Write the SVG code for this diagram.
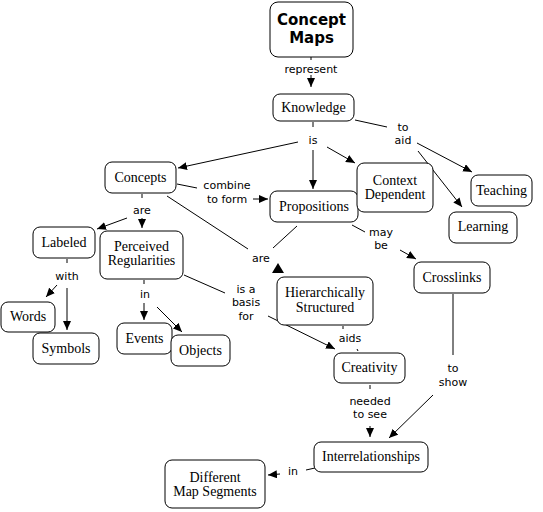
<svg xmlns="http://www.w3.org/2000/svg" width="543" height="512" viewBox="0 0 543 512">
<style>
.node rect { fill: #fff; stroke: #000; stroke-width: 1; }
.nt { font-family: "Liberation Serif", "Times New Roman", serif; font-size: 14px; text-anchor: middle; fill: #000; }
.title { font-family: "DejaVu Sans", "Liberation Sans", sans-serif; font-size: 15px; font-weight: bold; text-anchor: middle; fill: #000; }
.lt { font-family: "DejaVu Sans", "Liberation Sans", sans-serif; font-size: 11px; text-anchor: middle; fill: #000; }
.conn line { stroke: #000; stroke-width: 1; fill: none; }
.conn line.a { marker-end: url(#arrow); }
</style>
<defs>
<marker id="arrow" markerUnits="userSpaceOnUse" markerWidth="9" markerHeight="8" refX="9" refY="4" orient="auto">
<path d="M0,0 L9,4 L0,8 z" fill="#000"/>
</marker>
</defs>
<rect width="543" height="512" fill="#fff"/>
<g id="connectors" class="conn">
<line x1="311" y1="57" x2="311" y2="60"/>
<line class="a" x1="311" y1="75" x2="311" y2="87"/>
<line x1="313" y1="122" x2="313" y2="127"/>
<line class="a" x1="298" y1="142" x2="178" y2="168"/>
<line class="a" x1="313" y1="150" x2="313" y2="189"/>
<line class="a" x1="327" y1="147" x2="355" y2="163"/>
<line x1="355" y1="120" x2="387" y2="127"/>
<line class="a" x1="417" y1="143" x2="472" y2="172"/>
<line class="a" x1="418" y1="151" x2="462" y2="207"/>
<line x1="142" y1="194" x2="142" y2="198"/>
<line class="a" x1="127" y1="218" x2="97" y2="229"/>
<line class="a" x1="142" y1="218" x2="142" y2="228"/>
<line x1="177" y1="184" x2="197" y2="188"/>
<line class="a" x1="253" y1="199" x2="268" y2="199"/>
<line x1="167" y1="196" x2="248" y2="249"/>
<line x1="297" y1="226" x2="273" y2="248"/>
<polygon points="272,273 278,263 284,273" fill="#000"/>
<line x1="352" y1="225" x2="365" y2="232"/>
<line class="a" x1="400" y1="250" x2="416" y2="259"/>
<line x1="67" y1="259" x2="67" y2="263"/>
<line class="a" x1="57" y1="285" x2="46" y2="297"/>
<line class="a" x1="67" y1="288" x2="67" y2="330"/>
<line x1="144" y1="280" x2="144" y2="284"/>
<line class="a" x1="144" y1="303" x2="144" y2="320"/>
<line class="a" x1="157" y1="307" x2="182" y2="332"/>
<line x1="184" y1="275" x2="225" y2="293"/>
<line class="a" x1="268" y1="316" x2="335" y2="349"/>
<line x1="343" y1="326" x2="343" y2="329"/>
<line x1="357" y1="349" x2="358" y2="351"/>
<line x1="453" y1="294" x2="453" y2="355"/>
<line class="a" x1="433" y1="395" x2="389" y2="438"/>
<line x1="370" y1="385" x2="370" y2="389"/>
<line class="a" x1="370" y1="426" x2="370" y2="437"/>
<line x1="315" y1="468" x2="306" y2="470"/>
<line class="a" x1="280" y1="474" x2="268" y2="475"/>
</g>
<g id="labels">
<text class="lt" x="311" y="73">represent</text>
<text class="lt" x="313" y="144">is</text>
<text class="lt" x="403" y="131">to</text>
<text class="lt" x="403" y="144">aid</text>
<text class="lt" x="227" y="189">combine</text>
<text class="lt" x="227" y="203">to form</text>
<text class="lt" x="142" y="214">are</text>
<text class="lt" x="261" y="262">are</text>
<text class="lt" x="381" y="236">may</text>
<text class="lt" x="381" y="249">be</text>
<text class="lt" x="67" y="280">with</text>
<text class="lt" x="145" y="298">in</text>
<text class="lt" x="246" y="293">is a</text>
<text class="lt" x="246" y="306">basis</text>
<text class="lt" x="246" y="320">for</text>
<text class="lt" x="350" y="342">aids</text>
<text class="lt" x="453" y="372">to</text>
<text class="lt" x="453" y="386">show</text>
<text class="lt" x="370" y="405">needed</text>
<text class="lt" x="370" y="418">to see</text>
<text class="lt" x="293" y="475">in</text>
</g>
<g id="concept-maps" class="node"><rect x="270" y="2" width="83" height="55" rx="8"/><text class="title" x="311.5" y="25">Concept</text><text class="title" x="311.5" y="43">Maps</text></g>
<g id="knowledge" class="node"><rect x="273" y="94" width="81" height="27" rx="7"/><text class="nt" x="313.5" y="112">Knowledge</text></g>
<g id="concepts" class="node"><rect x="105" y="162" width="71" height="31" rx="7"/><text class="nt" x="140.5" y="182">Concepts</text></g>
<g id="propositions" class="node"><rect x="270" y="191" width="88" height="31" rx="7"/><text class="nt" x="314" y="211">Propositions</text></g>
<g id="context-dependent" class="node"><rect x="357" y="163" width="76" height="49" rx="7"/><text class="nt" x="395" y="185">Context</text><text class="nt" x="395" y="199">Dependent</text></g>
<g id="teaching" class="node"><rect x="471" y="175" width="61" height="31" rx="7"/><text class="nt" x="501.5" y="195">Teaching</text></g>
<g id="learning" class="node"><rect x="449" y="212" width="68" height="31" rx="7"/><text class="nt" x="483" y="231">Learning</text></g>
<g id="labeled" class="node"><rect x="33" y="227" width="62" height="31" rx="7"/><text class="nt" x="64" y="247">Labeled</text></g>
<g id="perceived-regularities" class="node"><rect x="100" y="231" width="83" height="48" rx="7"/><text class="nt" x="141.5" y="251">Perceived</text><text class="nt" x="141.5" y="265">Regularities</text></g>
<g id="words" class="node"><rect x="1" y="302" width="54" height="30" rx="7"/><text class="nt" x="28" y="321">Words</text></g>
<g id="symbols" class="node"><rect x="33" y="333" width="66" height="31" rx="7"/><text class="nt" x="66" y="353">Symbols</text></g>
<g id="events" class="node"><rect x="117" y="323" width="55" height="31" rx="7"/><text class="nt" x="144.5" y="343">Events</text></g>
<g id="objects" class="node"><rect x="171" y="335" width="59" height="31" rx="7"/><text class="nt" x="200.5" y="355">Objects</text></g>
<g id="hierarchically-structured" class="node"><rect x="277" y="277" width="96" height="48" rx="7"/><text class="nt" x="325" y="297">Hierarchically</text><text class="nt" x="325" y="312">Structured</text></g>
<g id="crosslinks" class="node"><rect x="414" y="262" width="76" height="31" rx="7"/><text class="nt" x="452" y="282">Crosslinks</text></g>
<g id="creativity" class="node"><rect x="334" y="353" width="71" height="30" rx="7"/><text class="nt" x="369.5" y="372">Creativity</text></g>
<g id="interrelationships" class="node"><rect x="314" y="442" width="114" height="30" rx="7"/><text class="nt" x="371" y="461">Interrelationships</text></g>
<g id="different-map-segments" class="node"><rect x="165" y="460" width="100" height="48" rx="7"/><text class="nt" x="215" y="482">Different</text><text class="nt" x="215" y="496">Map Segments</text></g>
</svg>
